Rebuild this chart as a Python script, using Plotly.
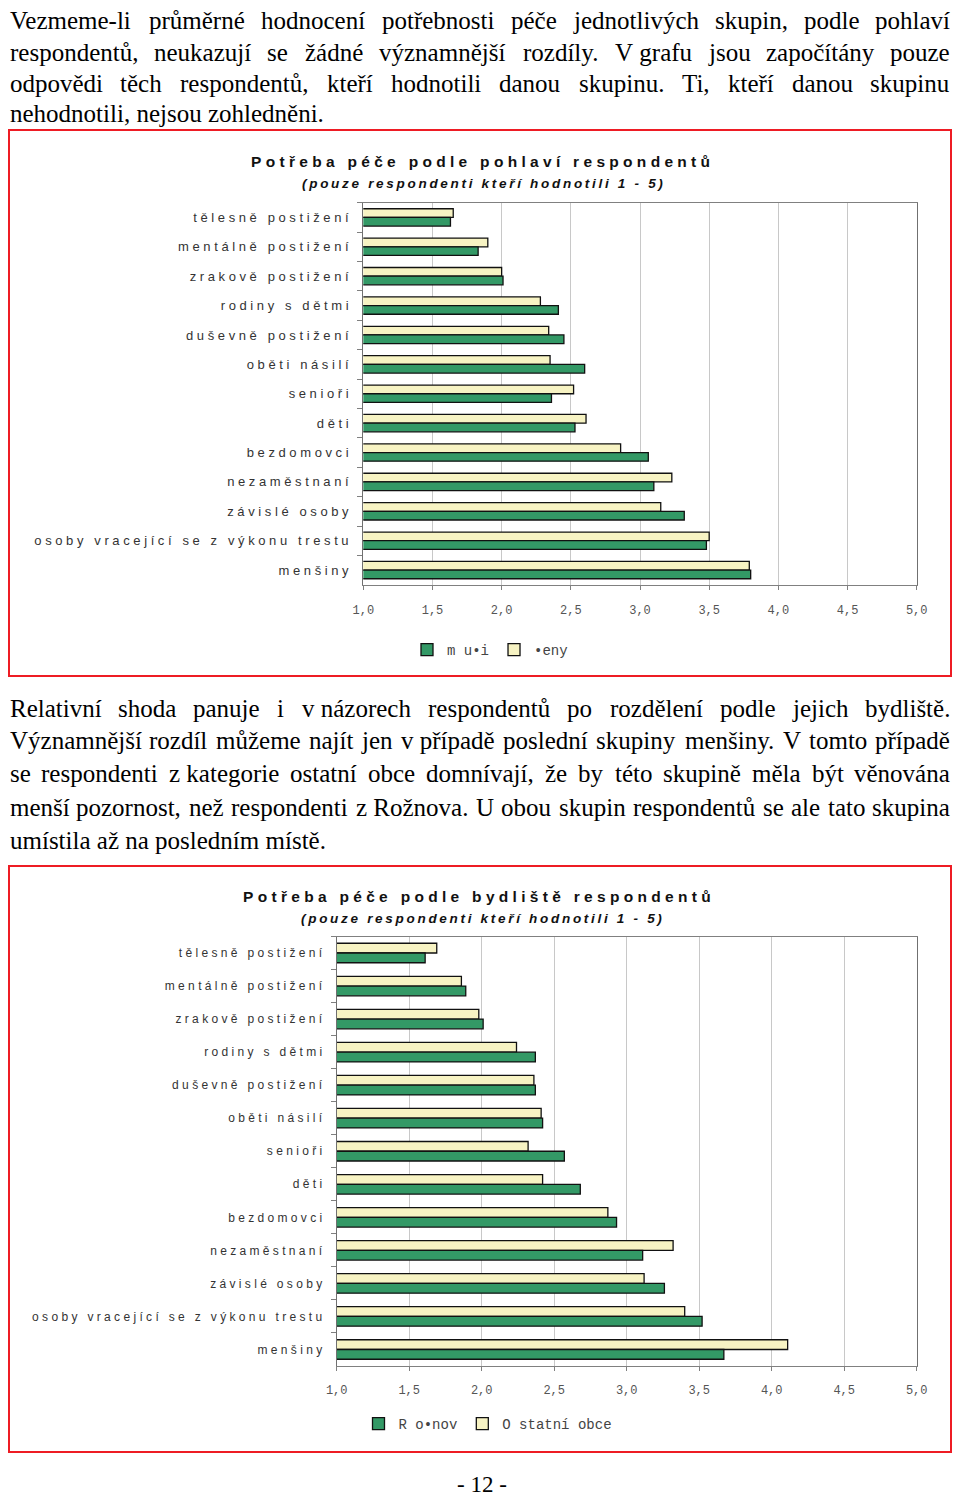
import unicodedata

import plotly.graph_objects as go

# ---- data ----
categories = [
    "tělesně postižení",
    "mentálně postižení",
    "zrakově postižení",
    "rodiny s dětmi",
    "duševně postižení",
    "oběti násilí",
    "senioři",
    "děti",
    "bezdomovci",
    "nezaměstnaní",
    "závislé osoby",
    "osoby vracející se z výkonu trestu",
    "menšiny",
]

# chart 1: by gender
muzi = [1.63, 1.83, 2.01, 2.41, 2.45, 2.60, 2.36, 2.53, 3.06, 3.10, 3.32, 3.48, 3.80]
zeny = [1.65, 1.90, 2.00, 2.28, 2.34, 2.35, 2.52, 2.61, 2.86, 3.23, 3.15, 3.50, 3.79]

# chart 2: by residence
roznov = [1.61, 1.89, 2.01, 2.37, 2.37, 2.42, 2.57, 2.68, 2.93, 3.11, 3.26, 3.52, 3.67]
ostatni = [1.69, 1.86, 1.98, 2.24, 2.36, 2.41, 2.32, 2.42, 2.87, 3.32, 3.12, 3.40, 4.11]

tick_vals = [1.0, 1.5, 2.0, 2.5, 3.0, 3.5, 4.0, 4.5, 5.0]
tick_text = ["1,0", "1,5", "2,0", "2,5", "3,0", "3,5", "4,0", "4,5", "5,0"]

para1 = [
    "Vezmeme-li průměrné hodnocení potřebnosti péče jednotlivých skupin, podle pohlaví",
    "respondentů, neukazují se žádné významnější rozdíly. V\u00a0grafu jsou započítány pouze",
    "odpovědi těch respondentů, kteří hodnotili danou skupinu. Ti, kteří danou skupinu",
    "nehodnotili, nejsou zohledněni.",
]
para2 = [
    "Relativní shoda panuje i v\u00a0názorech respondentů po rozdělení podle jejich bydliště.",
    "Významnější rozdíl můžeme najít jen v\u00a0případě poslední skupiny menšiny. V tomto případě",
    "se respondenti z\u00a0kategorie ostatní obce domnívají, že by této skupině měla být věnována",
    "menší pozornost, než respondenti z\u00a0Rožnova. U obou skupin respondentů se ale tato skupina",
    "umístila až na posledním místě.",
]

# the page body has an 8px margin: keep page = 960x1507 so no scrollbars appear,
# and express positions in page pixels (figure starts at page pixel 8,8)
OFF = 8
W, H = 960 - 2 * OFF, 1507 - 2 * OFF
GREEN = "#339966"
CREAM = "#f7f3c3"
SERIF = "Liberation Serif"
SANS = "Liberation Sans"
MONO = "Liberation Mono"

# Times-Roman advance widths (1/1000 em) for justifying the body text
TIMES = {" ": 250, "\u00a0": 250, ",": 250, ".": 250, "-": 333,
         "A": 722, "B": 667, "C": 667, "D": 722, "E": 611, "F": 556, "G": 722,
         "H": 722, "I": 333, "J": 389, "K": 722, "L": 611, "M": 889, "N": 722,
         "O": 722, "P": 556, "Q": 722, "R": 667, "S": 556, "T": 611, "U": 722,
         "V": 722, "W": 944, "X": 722, "Y": 722, "Z": 611,
         "a": 444, "b": 500, "c": 444, "d": 500, "e": 444, "f": 333, "g": 500,
         "h": 500, "i": 278, "j": 278, "k": 500, "l": 278, "m": 778, "n": 500,
         "o": 500, "p": 500, "q": 500, "r": 333, "s": 389, "t": 278, "u": 500,
         "v": 500, "w": 722, "x": 500, "y": 500, "z": 444}


def text_width(s, size):
    total = 0
    for ch in s:
        base = unicodedata.normalize("NFD", ch)[0]
        total += TIMES.get(ch, TIMES.get(base, 500))
    return total * size / 1000.0


def spaced(s, sep="\u00a0"):
    # imitate the letter-spaced chart fonts
    return sep.join(s.replace(" ", "\u00a0"))


def py(v):
    return 1 - (v - OFF) / H


def px(v):
    return (v - OFF) / W


fig = go.Figure()

cats1 = [spaced(c) for c in categories]
cats2 = [spaced(c) for c in categories]
bar_line = dict(color="#111111", width=1.3)

fig.add_trace(go.Bar(y=cats1, x=zeny, orientation="h", name="•eny",
                     marker=dict(color=CREAM, line=bar_line),
                     xaxis="x", yaxis="y", legend="legend", legendrank=2))
fig.add_trace(go.Bar(y=cats1, x=muzi, orientation="h", name="m u•i",
                     marker=dict(color=GREEN, line=bar_line),
                     xaxis="x", yaxis="y", legend="legend", legendrank=1))
fig.add_trace(go.Bar(y=cats2, x=ostatni, orientation="h", name="O statní obce",
                     marker=dict(color=CREAM, line=bar_line),
                     xaxis="x2", yaxis="y2", legend="legend2", legendrank=2))
fig.add_trace(go.Bar(y=cats2, x=roznov, orientation="h", name="R o•nov",
                     marker=dict(color=GREEN, line=bar_line),
                     xaxis="x2", yaxis="y2", legend="legend2", legendrank=1))

xaxis_common = dict(
    range=[1, 5], tickvals=tick_vals, ticktext=tick_text, automargin=False,
    showgrid=True, gridcolor="#c8c8c8", gridwidth=1, zeroline=False,
    showline=True, linecolor="#808080", linewidth=1.2, mirror=True,
    ticks="outside", ticklen=4, tickcolor="#808080",
    tickfont=dict(family=MONO, size=12, color="#555555"),
    fixedrange=True,
)
yaxis_common = dict(
    type="category", autorange="reversed", automargin=False,
    showline=True, linecolor="#707070", linewidth=1.2, mirror=True,
    ticks="outside", tickson="boundaries", ticklen=5, tickcolor="#808080",
    showgrid=False, fixedrange=True,
)
legend_common = dict(orientation="h", xanchor="center", yanchor="middle",
                     font=dict(family=MONO, size=14, color="#444444"),
                     bgcolor="rgba(0,0,0,0)", itemwidth=30)

fig.update_layout(
    width=W, height=H,
    margin=dict(l=0, r=0, t=0, b=0, autoexpand=False),
    paper_bgcolor="white", plot_bgcolor="white",
    barmode="group", bargap=0.41, bargroupgap=0,
    xaxis=dict(xaxis_common, domain=[px(363.3), px(916.7)], anchor="y",
               ticklabelstandoff=10),
    yaxis=dict(yaxis_common, domain=[py(584.8), py(202.7)], anchor="x",
               tickfont=dict(family=SANS, size=13, color="#333333"),
               ticklabelstandoff=11),
    xaxis2=dict(xaxis_common, domain=[px(336.7), px(916.7)], anchor="y2",
                ticklabelstandoff=8),
    yaxis2=dict(yaxis_common, domain=[py(1366), py(936.5)], anchor="x2",
                tickfont=dict(family=SANS, size=12, color="#333333"),
                ticklabelstandoff=11),
    legend=dict(legend_common, x=px(490), y=py(650)),
    legend2=dict(legend_common, x=px(488), y=py(1424)),
    showlegend=True,
)

# red frames around the charts (kept just inside the figure edges)
for top, bottom in [(130, 676), (866, 1452)]:
    fig.add_shape(type="rect", xref="paper", yref="paper",
                  x0=px(9), x1=px(951), y0=py(bottom), y1=py(top),
                  line=dict(color="#ee1c24", width=2), fillcolor="rgba(0,0,0,0)")

# chart titles
titles = [
    ("Potřeba péče podle pohlaví respondentů", 480, 161),
    ("(pouze respondenti kteří hodnotili 1 - 5)", 482, 183),
    ("Potřeba péče podle bydliště respondentů", 477, 897),
    ("(pouze respondenti kteří hodnotili 1 - 5)", 481, 918),
]
for i, (t, cx, cy) in enumerate(titles):
    if i % 2 == 0:
        txt = "<b>" + spaced(t) + "</b>"
        fnt = dict(family=SANS, size=15.5, color="#111111")
    else:
        txt = "<b><i>" + spaced(t, "\u2009") + "</i></b>"
        fnt = dict(family=SANS, size=13.5, color="#111111")
    fig.add_annotation(text=txt, x=px(cx), y=py(cy), xref="paper", yref="paper",
                       showarrow=False, xanchor="center", yanchor="middle", font=fnt)


# justified body text, one annotation per word (last line of a paragraph left aligned)
def add_paragraph(lines, y0, step=33, size=25, left=9, right=951):
    font = dict(family=SERIF, size=size, color="#000000")
    for k, line in enumerate(lines):
        yy = py(y0 + k * step)
        if k == len(lines) - 1:
            fig.add_annotation(text=line, x=px(left), y=yy, xref="paper", yref="paper",
                               showarrow=False, xanchor="left", yanchor="middle",
                               borderpad=0, font=font)
            continue
        words = line.split(" ")
        widths = [text_width(w, size) for w in words]
        gap = (right - left - sum(widths)) / (len(words) - 1)
        x = left
        for j, w in enumerate(words):
            if j == 0:
                xa, anchor = x, "left"
            elif j == len(words) - 1:
                xa, anchor = right, "right"
            else:
                xa, anchor = x + widths[j] / 2, "center"
            fig.add_annotation(text=w, x=px(xa), y=yy, xref="paper", yref="paper",
                               showarrow=False, xanchor=anchor, yanchor="middle",
                               borderpad=0, font=font)
            x += widths[j] + gap


add_paragraph(para1, 21, step=31)
add_paragraph(para2, 708)

# page number
fig.add_annotation(text="- 12 -", x=px(482), y=py(1484), xref="paper", yref="paper",
                   showarrow=False, xanchor="center", yanchor="middle", borderpad=0,
                   font=dict(family=SERIF, size=23, color="#000000"))

fig.write_html("out.html")
